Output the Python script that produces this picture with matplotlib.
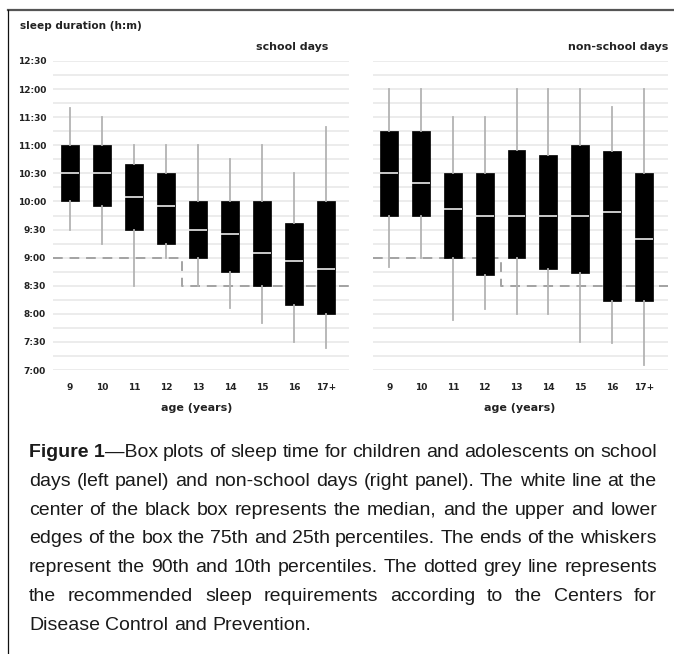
import matplotlib
matplotlib.use('Agg')
import numpy as np
import matplotlib.pyplot as plt
from matplotlib.lines import Line2D

# box plot stats per age group, h:mm
ages = ['9', '10', '11', '12', '13', '14', '15', '16', '17+']

school_p90 = ['11:40', '11:30', '11:00', '11:00', '11:00', '10:45', '11:00', '10:30', '11:20']
school_q3 = ['11:00', '11:00', '10:40', '10:30', '10:00', '10:00', '10:00', '9:37', '10:00']
school_med = ['10:30', '10:30', '10:05', '9:55', '9:30', '9:25', '9:05', '8:56', '8:48']
school_q1 = ['10:00', '9:55', '9:30', '9:15', '9:00', '8:45', '8:30', '8:09', '8:00']
school_p10 = ['9:30', '9:15', '8:30', '9:00', '8:30', '8:06', '7:50', '7:30', '7:24']

free_p90 = ['12:00', '12:00', '11:30', '11:30', '12:00', '12:00', '12:00', '11:41', '12:00']
free_q3 = ['11:15', '11:15', '10:30', '10:30', '10:55', '10:50', '11:00', '10:54', '10:30']
free_med = ['10:30', '10:20', '9:52', '9:45', '9:45', '9:45', '9:45', '9:49', '9:20']
free_q1 = ['9:45', '9:45', '9:00', '8:41', '9:00', '8:48', '8:44', '8:14', '8:14']
free_p10 = ['8:50', '9:00', '7:53', '8:05', '8:00', '8:00', '7:30', '7:29', '7:05']

# CDC recommended sleep per age group
recommended = ['9:00', '9:00', '9:00', '9:00', '8:30', '8:30', '8:30', '8:30', '8:30']

yticks = ['7:00', '7:30', '8:00', '8:30', '9:00', '9:30', '10:00', '10:30',
          '11:00', '11:30', '12:00', '12:30']

caption = [
    [[('Figure 1', 'bold'), ('\u2014Box', 'normal')], 'plots', 'of', 'sleep', 'time',
     'for', 'children', 'and', 'adolescents', 'on', 'school'],
    'days (left panel) and non-school days (right panel). The white line at the',
    'center of the black box represents the median, and the upper and lower',
    'edges of the box the 75th and 25th percentiles. The ends of the whiskers',
    'represent the 90th and 10th percentiles. The dotted grey line represents',
    'the recommended sleep requirements according to the Centers for',
    'Disease Control and Prevention.',
]


def hrs(s):
    h, m = s.split(':')
    return int(h) + int(m) / 60


W, H = 674, 654
fig = plt.figure(figsize=(W / 100, H / 100), dpi=100)
fig.patch.set_facecolor('white')

chart_font = ['DejaVu Sans']
cap_font = ['Liberation Sans', 'DejaVu Sans']
ink = '#222222'


def fx(px):
    return px / W


def fy(py):
    return 1 - py / H


def panel(left, right, xlim, p90, q3, med, q1, p10, show_y):
    ax = fig.add_axes([fx(left), fy(370), fx(right) - fx(left), fy(61) - fy(370)])
    ax.set_xlim(*xlim)
    ax.set_ylim(7, 12.5)
    for y in np.arange(7, 12.51, 0.25):
        ax.axhline(y, color='#ebebeb', lw=1.3, zorder=0)

    rec = [hrs(r) for r in recommended]
    xs = np.r_[xlim[0], np.arange(len(ages)), xlim[1]]
    ys = np.r_[rec[0], rec, rec[-1]]
    ax.step(xs, ys, where='mid', color='#a3a3a3', lw=1.4, ls=(0, (5, 3.5)), zorder=1)

    stats = []
    for i in range(len(ages)):
        stats.append(dict(med=hrs(med[i]), q1=hrs(q1[i]), q3=hrs(q3[i]),
                          whislo=hrs(p10[i]), whishi=hrs(p90[i])))
    ax.bxp(stats, positions=range(len(ages)), widths=0.56, showfliers=False,
           showcaps=False, patch_artist=True,
           boxprops=dict(facecolor='black', edgecolor='black', lw=0.5),
           medianprops=dict(color='white', lw=1.1),
           whiskerprops=dict(color='#b3b3b3', lw=1.3))

    for s in ax.spines.values():
        s.set_visible(False)
    ax.set_xticks(range(len(ages)), ages)
    ax.tick_params(axis='x', length=0, pad=9)
    if show_y:
        ax.set_yticks([hrs(t) for t in yticks], yticks)
        ax.tick_params(axis='y', length=0, pad=5)
    else:
        ax.set_yticks([])
    for lab in ax.get_xticklabels() + ax.get_yticklabels():
        lab.set_fontfamily(chart_font)
        lab.set_fontweight('bold')
        lab.set_fontsize(6.5)
        lab.set_color(ink)
    return ax


ax1 = panel(53, 349, (-0.53, 8.72), school_p90, school_q3, school_med,
            school_q1, school_p10, True)
ax2 = panel(373, 668, (-0.51, 8.76), free_p90, free_q3, free_med,
            free_q1, free_p10, False)

txt = dict(family=chart_font, weight='bold', color=ink)
fig.text(fx(20), fy(26), 'sleep duration (h:m)', ha='left', va='center', fontsize=7.6, **txt)
fig.text(fx(328), fy(47), 'school days', ha='right', va='center', fontsize=7.9, **txt)
fig.text(fx(668), fy(47), 'non-school days', ha='right', va='center', fontsize=7.9, **txt)
fig.text(fx(197), fy(408), 'age (years)', ha='center', va='center', fontsize=8, **txt)
fig.text(fx(520), fy(408), 'age (years)', ha='center', va='center', fontsize=8, **txt)

# frame: top rule and left rule
fig.add_artist(Line2D([fx(8), 1], [fy(9.5), fy(9.5)], color='#555555', lw=1.6))
fig.add_artist(Line2D([fx(8), fx(8)], [fy(9.5), 0], color='#111111', lw=0.9))

# justified caption, word by word
renderer = fig.canvas.get_renderer()
cap_left, cap_right = 29, 657
base0, step = 457.3, 28.7
cap_size = 14

for li, line in enumerate(caption):
    words = line.split() if isinstance(line, str) else line
    base = base0 + li * step
    placed = []
    widths = []
    for w in words:
        pieces = [(w, 'normal')] if isinstance(w, str) else w
        arts = []
        wsum = 0
        for s, wt in pieces:
            t = fig.text(0, fy(base), s, ha='left', va='baseline', fontsize=cap_size,
                         family=cap_font, weight=wt, color='#1a1a1a')
            bw = t.get_window_extent(renderer).width
            arts.append((t, wsum))
            wsum += bw
        placed.append(arts)
        widths.append(wsum)
    if li < len(caption) - 1:
        gap = (cap_right - cap_left - sum(widths)) / (len(words) - 1)
    else:
        gap = 0.28 * cap_size * 100 / 72
    x = cap_left
    for arts, wd in zip(placed, widths):
        for t, off in arts:
            t.set_x(fx(x + off))
        x += wd + gap

fig.savefig('out.png', dpi=100, facecolor='white')
